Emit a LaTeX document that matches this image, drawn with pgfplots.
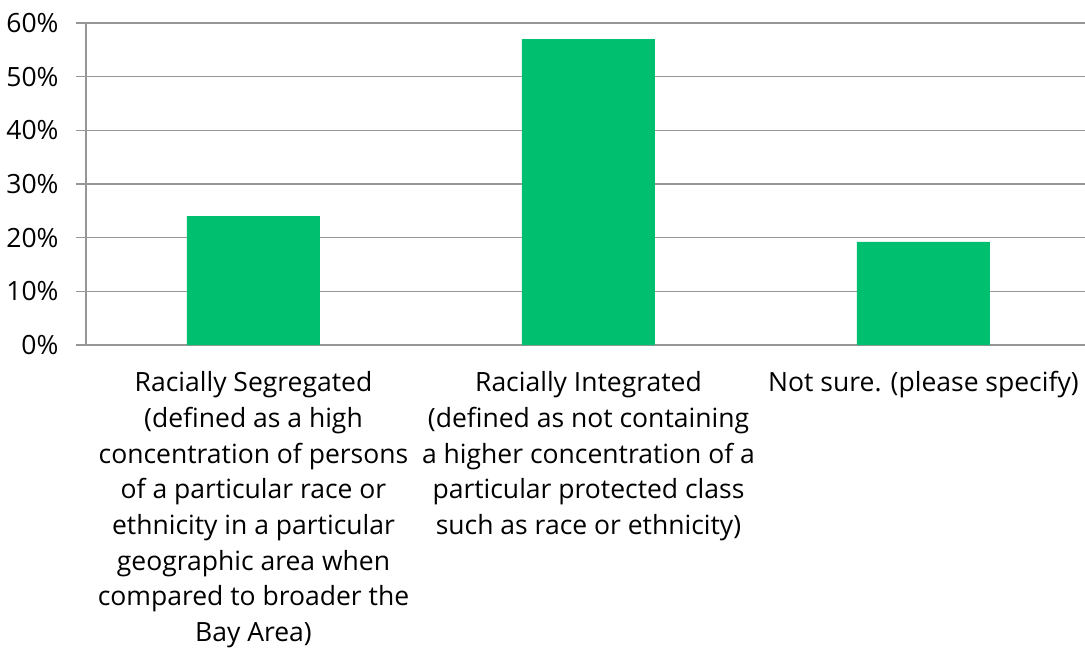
\documentclass[border=0pt]{standalone}
\usepackage{pgfplots}
\pgfplotsset{compat=1.18}
\usepackage{fontspec}
\setmainfont{Open Sans}
\definecolor{bargreen}{RGB}{0,191,111}
\definecolor{gridgray}{RGB}{150,150,150}
\begin{document}
\begin{tikzpicture}[x=1pt,y=1pt]
\useasboundingbox (-86,-309) rectangle (999,345);
\begin{axis}[
  at={(0,0)}, anchor=south west,
  scale only axis,
  width=1005pt, height=322pt,
  xmin=-0.5, xmax=2.5,
  ymin=0, ymax=60,
  axis x line*=bottom,
  axis y line*=left,
  axis line style={gridgray, line width=1.3pt, -},
  ytick={0,10,...,60},
  yticklabel={\pgfmathprintnumber{\tick}\%},
  /pgf/number format/assume math mode=true,
  ymajorgrids,
  grid style={gridgray, line width=1.3pt},
  ytick style={gridgray, line width=1.3pt},
  tick align=outside,
  major tick length=10pt,
  yticklabel style={font=\fontsize{26.5}{30}\selectfont, xshift=-14pt},
  xtick={0,1,2},
  xticklabels={
    {Racially Segregated\\(defined as a high\\concentration of persons\\of a particular race or\\ethnicity in a particular\\geographic area when\\compared to broader the\\Bay Area)},
    {Racially Integrated\\(defined as not containing\\a higher concentration of a\\particular protected class\\such as race or ethnicity)},
    {Not sure. (please specify)}},
  xticklabel style={font=\fontsize{26.5}{35.7}\selectfont, align=center, anchor=north, yshift=-13pt},
  x tick style={draw=none},
  extra x ticks={-0.5,0.5,1.5,2.5},
  extra x tick labels={},
  extra x tick style={grid=none, tick style={draw=gridgray, line width=1.3pt}, major tick length=8pt},
  bar width=133pt,
  clip=false,
]
\addplot[ybar, fill=bargreen, draw=none] coordinates {(0,24.0) (1,57.0) (2,19.2)};
\end{axis}
\end{tikzpicture}
\end{document}
